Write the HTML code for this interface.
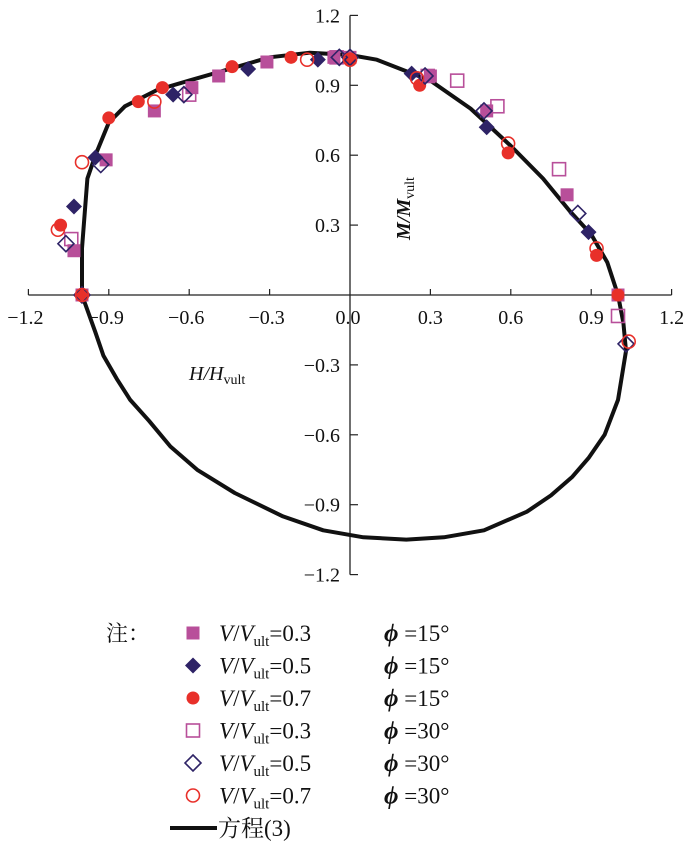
<!DOCTYPE html>
<html><head><meta charset="utf-8"><style>
body{margin:0;background:#fff}
svg text{font-family:"Liberation Serif","Noto Serif CJK SC",serif;fill:#111}
</style></head><body>
<svg id="chart" width="700" height="842" xmlns="http://www.w3.org/2000/svg">
<g id="axes"></g>
<path id="curve" fill="none" stroke="#111" stroke-width="4" stroke-linejoin="round"/>
<g id="marks"></g>
<text transform="translate(410,240) rotate(-90)" font-size="20" font-style="italic" font-weight="bold">M/M<tspan font-size="14" font-style="normal" font-weight="normal" dy="4">vult</tspan></text>
<text x="189" y="380" font-size="20" font-style="italic">H/H<tspan font-size="14" font-style="normal" dy="4">vult</tspan></text>
<g id="legend"></g>
</svg>
<script>
const X0=350, SX=268, Y0=295, SY=233;
const xs=h=>X0+h*SX, ys=m=>Y0-m*SY;
const ticks=[-1.2,-0.9,-0.6,-0.3,0.3,0.6,0.9,1.2];
const tickLabels=["-1.2","-0.9","-0.6","-0.3","0.3","0.6","0.9","1.2"];
const curveH=[-1.0,-1.0,-0.99,-0.98,-0.95,-0.9,-0.84,-0.72,-0.6,-0.45,-0.3,-0.15,0,0.1,0.3,0.45,0.6,0.72,0.82,0.9,0.96,1.0,1.02,1.03,1.01,1.0,0.95,0.89,0.83,0.75,0.66,0.5,0.35,0.21,0.05,-0.1,-0.25,-0.43,-0.57,-0.67,-0.75,-0.82,-0.87,-0.92,-0.95,-1.0];
const curveM=[0,0.2,0.35,0.5,0.6,0.74,0.81,0.88,0.92,0.97,1.02,1.04,1.03,1.01,0.92,0.8,0.64,0.5,0.36,0.26,0.14,0,-0.12,-0.24,-0.38,-0.45,-0.6,-0.7,-0.78,-0.86,-0.93,-1.01,-1.04,-1.05,-1.04,-1.01,-0.95,-0.85,-0.75,-0.65,-0.54,-0.45,-0.36,-0.26,-0.16,0];
const sqFH=[-1.0,-1.03,-0.91,-0.73,-0.59,-0.49,-0.31,-0.06,0.0,0.30,0.51,0.81,1.0];
const sqFM=[0,0.19,0.58,0.79,0.89,0.94,1.0,1.02,1.02,0.94,0.79,0.43,0];
const diFH=[-1.03,-0.95,-0.66,-0.38,-0.12,0.23,0.51,0.89];
const diFM=[0.38,0.59,0.86,0.97,1.01,0.95,0.72,0.27];
const ciFH=[-1.0,-1.08,-0.90,-0.79,-0.70,-0.44,-0.22,0.0,0.26,0.59,0.92,1.0];
const ciFM=[0,0.30,0.76,0.83,0.89,0.98,1.02,1.01,0.90,0.61,0.17,0];
const sqOH=[-1.04,-0.60,-0.05,0.29,0.40,0.55,0.78,1.0];
const sqOM=[0.24,0.86,1.02,0.94,0.92,0.81,0.54,-0.09];
const diOH=[-1.0,-1.06,-0.93,-0.62,-0.04,0.0,0.28,0.50,0.85,1.03];
const diOM=[0,0.22,0.56,0.86,1.02,1.02,0.94,0.79,0.35,-0.21];
const ciOH=[-1.0,-1.09,-1.0,-0.73,-0.16,0.0,0.25,0.59,0.92,1.04];
const ciOM=[0,0.28,0.57,0.83,1.01,1.01,0.93,0.65,0.20,-0.20];
const NS="http://www.w3.org/2000/svg";
function mk(tag,at,parent){const e=document.createElementNS(NS,tag);for(const k in at)e.setAttribute(k,at[k]);parent.appendChild(e);return e;}
const ax=document.getElementById('axes');
let l=mk('line',{x1:xs(-1.2),x2:xs(1.2),y1:Y0,y2:Y0,stroke:'#222','stroke-width':1.3},ax);


l=mk('line',{x1:X0,x2:X0,y1:ys(1.2),y2:ys(-1.2),stroke:'#222','stroke-width':1.3},ax);


ticks.forEach((t,i)=>{
 let a=mk('line',{x1:xs(t),x2:xs(t),y1:Y0,y2:Y0-6,stroke:'#222','stroke-width':1.2},ax);
 
 
 let b=mk('line',{x1:X0,x2:X0+8,y1:ys(t),y2:ys(t),stroke:'#222','stroke-width':1.2},ax);
 
 
 let tx=mk('text',{x:xs(t)+(t>0?0:-3),y:Y0+29,'font-size':20,'text-anchor':'middle'},ax);tx.textContent=tickLabels[i].replace('-','\u2212');
 
 
 let ty=mk('text',{x:X0-10,y:ys(t)+7,'font-size':20,'text-anchor':'end'},ax);ty.textContent=tickLabels[i].replace('-','\u2212');
 
 
});
let z=mk('text',{x:xs(0)-2,y:Y0+29,'font-size':20,'text-anchor':'middle'},ax);z.textContent='0.0';


let d='';curveH.forEach((h,i)=>{d+=(i?'L':'M')+xs(h).toFixed(1)+','+ys(curveM[i]).toFixed(1);});
document.getElementById('curve').setAttribute('d',d+'Z');
function marker(type,filled,color,x,y,g){
 const s=filled?{fill:color}:{fill:'none',stroke:color,'stroke-width':1.6};let e;
 if(type==='sq'){e=mk('rect',Object.assign({x:x-6.5,y:y-6.5,width:13,height:13},s),g);}
 else if(type==='di'){e=mk('path',Object.assign({d:`M${x},${y-8}L${x+8},${y}L${x},${y+8}L${x-8},${y}Z`},s),g);}
 else {e=mk('circle',Object.assign({cx:x,cy:y,r:6.5},s),g);}
 return e;
}
const mg=document.getElementById('marks');
const series=[['sq',true,'#b84f9a',sqFH,sqFM],['di',true,'#2e2366',diFH,diFM],['ci',true,'#e8302a',ciFH,ciFM],['sq',false,'#b84f9a',sqOH,sqOM],['di',false,'#2e2366',diOH,diOM],['ci',false,'#e8302a',ciOH,ciOM]];
series.forEach(s=>{s[3].forEach((h,i)=>{const e=marker(s[0],s[1],s[2],xs(h),ys(s[4][i]),mg);
 
 });});
const lg=document.getElementById('legend');
const vals=['0.3','0.5','0.7','0.3','0.5','0.7'],phis=['15','15','15','30','30','30'];
let nt=mk('text',{x:106,y:641,'font-size':22},lg);nt.textContent='注：';


series.forEach((s,i)=>{const y=633+i*32.5;
 const m=marker(s[0],s[1],s[2],193,y,lg);
 
 
 const t=mk('text',{x:219,y:y+8,'font-size':23},lg);
 t.innerHTML='<tspan font-style="italic">V</tspan>/<tspan font-style="italic">V</tspan><tspan font-size="15" dy="5">ult</tspan><tspan dy="-5">='+vals[i]+'</tspan>';
 
 
 const p=mk('text',{x:384,y:y+8,'font-size':23},lg);
 p.innerHTML='<tspan font-style="italic" font-weight="bold" font-size="25">ϕ</tspan> =15°'.replace('15',phis[i]);
 
 
});
let ll=mk('line',{x1:170,x2:217,y1:828,y2:828,stroke:'#111','stroke-width':4},lg);


let lt=mk('text',{x:218,y:836,'font-size':23},lg);lt.textContent='方程(3)';


</script>
</body></html>
